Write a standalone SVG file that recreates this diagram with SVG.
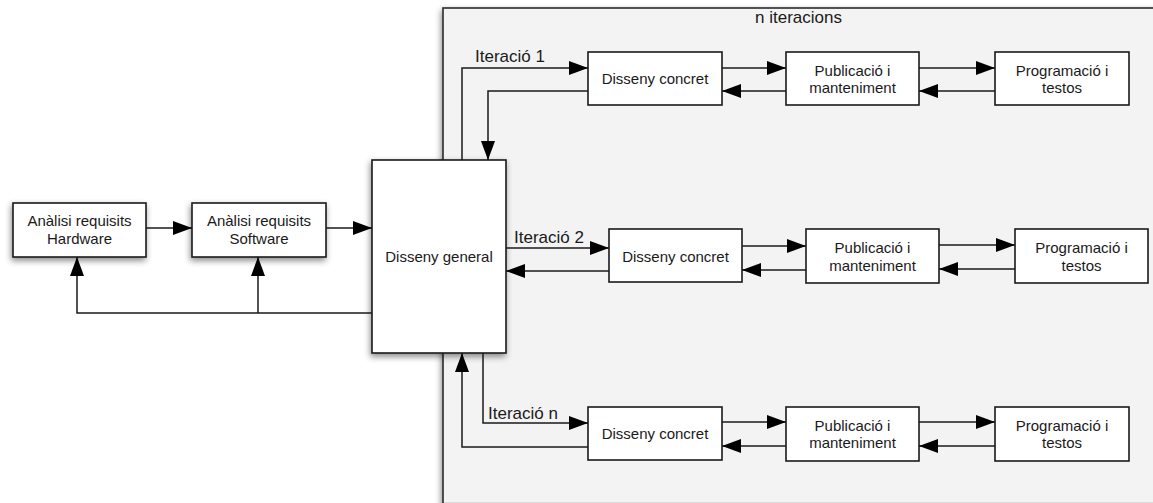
<svg xmlns="http://www.w3.org/2000/svg" width="1153" height="503" viewBox="0 0 1153 503">
<style>
.box{fill:#fff;stroke:#1a1a1a;stroke-width:1.6}
.t{font-family:"Liberation Sans",Arial,sans-serif;font-size:15px;fill:#1a1a1a;text-anchor:middle}
.lbl{font-family:"Liberation Sans",Arial,sans-serif;font-size:17px;fill:#1a1a1a}
.c{fill:none;stroke:#1a1a1a;stroke-width:1.5;marker-end:url(#ah)}
</style>
<defs>
<marker id="ah" markerUnits="userSpaceOnUse" markerWidth="19" markerHeight="14" refX="19" refY="7" orient="auto">
<path d="M0,0 L19,7 L0,14 z" fill="#000"/>
</marker>
<filter id="sh" x="-20%" y="-20%" width="140%" height="150%">
<feDropShadow dx="-1" dy="3" stdDeviation="3" flood-color="#000" flood-opacity="0.45"/>
</filter>
</defs>
<rect width="1153" height="503" fill="#fff"/>
<g id="container">
<rect x="443" y="8" width="730" height="520" fill="#f3f3f3" stroke="#2a2a2a" stroke-width="1.6" filter="url(#sh)"/>
<line x1="444" y1="502.5" x2="1153" y2="502.5" stroke="#dcdcdc" stroke-width="1"/>
<text class="lbl" x="755" y="23">n iteracions</text>
</g>
<g id="hw"><rect class="box" x="13" y="203" width="133" height="54" filter="url(#sh)"/><text class="t" x="79.5" y="226">Anàlisi requisits</text><text class="t" x="79.5" y="244">Hardware</text></g>
<g id="sw"><rect class="box" x="192" y="203" width="134" height="54" filter="url(#sh)"/><text class="t" x="259" y="226">Anàlisi requisits</text><text class="t" x="259" y="244">Software</text></g>
<g id="dg"><rect class="box" x="372" y="160" width="134" height="193" filter="url(#sh)"/><text class="t" x="439" y="262">Disseny general</text></g>

<g id="dc1"><rect class="box" x="588" y="52" width="134" height="53"/><text class="t" x="655" y="84">Disseny concret</text></g>
<g id="pm1"><rect class="box" x="786" y="52" width="133" height="53"/><text class="t" x="852.5" y="76">Publicació i</text><text class="t" x="852.5" y="93">manteniment</text></g>
<g id="pt1"><rect class="box" x="995" y="52" width="134" height="53"/><text class="t" x="1062" y="76">Programació i</text><text class="t" x="1062" y="93">testos</text></g>

<g id="dc2"><rect class="box" x="609" y="229" width="133" height="53"/><text class="t" x="675.5" y="262">Disseny concret</text></g>
<g id="pm2"><rect class="box" x="806" y="229" width="133" height="54"/><text class="t" x="872.5" y="253">Publicació i</text><text class="t" x="872.5" y="271">manteniment</text></g>
<g id="pt2"><rect class="box" x="1015" y="229" width="133" height="54"/><text class="t" x="1081.5" y="253">Programació i</text><text class="t" x="1081.5" y="271">testos</text></g>

<g id="dc3"><rect class="box" x="588" y="407" width="134" height="53"/><text class="t" x="655" y="439">Disseny concret</text></g>
<g id="pm3"><rect class="box" x="786" y="407" width="133" height="54"/><text class="t" x="852.5" y="431">Publicació i</text><text class="t" x="852.5" y="448">manteniment</text></g>
<g id="pt3"><rect class="box" x="995" y="407" width="134" height="54"/><text class="t" x="1062" y="431">Programació i</text><text class="t" x="1062" y="448">testos</text></g>

<g id="connectors">
<path class="c" d="M146,228 H192"/>
<path class="c" d="M326,228 H372"/>
<path class="c" d="M372,313 H77 V257"/>
<path class="c" d="M258,313 V257"/>
<path class="c" d="M462,160 V68 H588"/>
<path class="c" d="M588,91 H488 V160"/>
<path class="c" d="M722,68 H786"/>
<path class="c" d="M919,68 H995"/>
<path class="c" d="M786,91 H722"/>
<path class="c" d="M995,91 H919"/>
<path class="c" d="M506,248 H609"/>
<path class="c" d="M609,271 H506"/>
<path class="c" d="M742,246 H806"/>
<path class="c" d="M939,245 H1015"/>
<path class="c" d="M806,270 H742"/>
<path class="c" d="M1015,269 H939"/>
<path class="c" d="M483,353 V423 H588"/>
<path class="c" d="M588,447 H462 V353"/>
<path class="c" d="M722,422 H786"/>
<path class="c" d="M919,422 H995"/>
<path class="c" d="M786,446 H722"/>
<path class="c" d="M995,446 H919"/>
<text class="lbl" x="475" y="62">Iteració 1</text>
<text class="lbl" x="514" y="243">Iteració 2</text>
<text class="lbl" x="488" y="419">Iteració n</text>
</g>
</svg>
